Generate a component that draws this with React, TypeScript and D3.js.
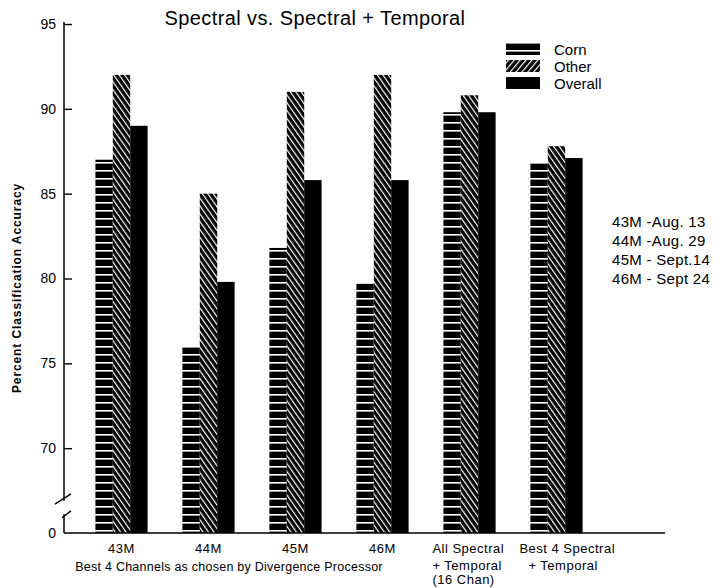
import React, { useEffect, useRef } from "react";
import * as d3 from "d3";

const groups = ["43M", "44M", "45M", "46M", "All Spectral", "Best 4 Spectral"];
const groupLines = [
  ["43M"],
  ["44M"],
  ["45M"],
  ["46M"],
  ["All Spectral", "+ Temporal", "(16 Chan)"],
  ["Best 4 Spectral", "+ Temporal"],
];
const series = ["Corn", "Other", "Overall"];
const corn = [87, 76, 81.8, 79.7, 89.8, 86.8];
const other = [92, 85, 91, 92, 90.8, 87.8];
const overall = [89, 79.8, 85.8, 85.8, 89.8, 87.1];
const yTicks = [70, 75, 80, 85, 90, 95];
const dateNotes = ["43M -Aug. 13", "44M -Aug. 29", "45M - Sept.14", "46M - Sept 24"];

const FONT = "'Liberation Sans', Arial, sans-serif";

export default function App() {
  const ref = useRef<SVGSVGElement>(null);

  useEffect(() => {
    const svg = d3.select(ref.current);
    svg.selectAll("*").remove();

    var x = d3.scaleBand().domain(groups).range([78, 600]).paddingInner(0.4).paddingOuter(0.2);
    var xs = d3.scaleBand().domain(series).range([0, x.bandwidth()]);
    // 65 stands in for the broken-off 0 at the baseline
    var y = d3.scaleLinear().domain([65, 95]).range([533, 24]);
    var base = y(65);

    // patterns
    var defs = svg.append("defs");
    var hp = defs.append("pattern").attr("id", "horiz").attr("patternUnits", "userSpaceOnUse")
      .attr("width", 20).attr("height", 8);
    hp.append("rect").attr("width", 20).attr("height", 8).attr("fill", "#000");
    hp.append("rect").attr("y", 2).attr("width", 20).attr("height", 1.6).attr("fill", "#fff");

    function diag(id: string, angle: number) {
      var p = defs.append("pattern").attr("id", id).attr("patternUnits", "userSpaceOnUse")
        .attr("width", 4.5).attr("height", 10).attr("patternTransform", "rotate(" + angle + ")");
      p.append("rect").attr("width", 4.5).attr("height", 10).attr("fill", "#000");
      p.append("rect").attr("x", 0).attr("width", 1.2).attr("height", 10).attr("fill", "#fff");
    }
    diag("diag", -35);
    diag("diagLeg", 40);

    var fills: { [k: string]: string } = { Corn: "url(#horiz)", Other: "url(#diag)", Overall: "#000" };
    var values: { [k: string]: number[] } = { Corn: corn, Other: other, Overall: overall };

    // bars
    var g = svg.append("g");
    groups.forEach((grp, i) => {
      series.forEach((s) => {
        var v = values[s][i];
        g.append("rect")
          .attr("x", (x(grp) as number) + (xs(s) as number))
          .attr("y", y(v))
          .attr("width", xs.bandwidth())
          .attr("height", base - y(v))
          .attr("fill", fills[s]);
      });
    });

    // y axis with break
    var axis = d3.axisLeft(y).tickValues(yTicks).tickSize(-8).tickPadding(8).tickFormat(d3.format("d"));
    var ag = svg.append("g").attr("transform", "translate(64,0)").call(axis);
    ag.select(".domain").remove();
    ag.selectAll("line").attr("stroke", "#000").attr("stroke-width", 1.4);
    ag.selectAll("text").attr("font-family", FONT).attr("font-size", 14).attr("fill", "#000");

    var line = (x1: number, y1: number, x2: number, y2: number) =>
      svg.append("line").attr("x1", x1).attr("y1", y1).attr("x2", x2).attr("y2", y2)
        .attr("stroke", "#000").attr("stroke-width", 1.5);
    line(64, y(95) - 2, 64, y(66.9));
    line(55, y(66.7), 71, y(67.3));
    line(64, y(66.1), 64, base);
    line(62, y(65.9), 71, y(66.3));
    line(64, base, 665, base);
    svg.append("text").attr("x", 56).attr("y", base).attr("dy", "0.35em").attr("text-anchor", "end")
      .attr("font-family", FONT).attr("font-size", 14).text("0");

    // y label
    svg.append("text")
      .attr("transform", "translate(21,288) rotate(-90)")
      .attr("text-anchor", "middle")
      .attr("font-family", FONT).attr("font-size", 12).attr("font-weight", "bold").attr("letter-spacing", 0.9)
      .text("Percent Classification Accuracy");

    // x labels: single ones centred, stacked ones left-aligned as in the original
    groups.forEach((grp, i) => {
      var x0 = x(grp) as number;
      var lines = groupLines[i];
      lines.forEach((t, j) => {
        var multi = lines.length > 1;
        svg.append("text")
          .attr("x", multi ? x0 - 11 + (i === 5 && j === 1 ? 9 : 0) : x0 + x.bandwidth() / 2)
          .attr("y", 553 + j * 17 - (j > 1 ? 3 : 0))
          .attr("text-anchor", multi ? "start" : "middle")
          .attr("font-family", FONT).attr("font-size", 13).attr("letter-spacing", 0.5)
          .text(t);
      });
    });
    svg.append("text").attr("x", 229).attr("y", 571).attr("text-anchor", "middle")
      .attr("font-family", FONT).attr("font-size", 12.5).attr("letter-spacing", 0.25)
      .text("Best 4 Channels as chosen by Divergence Processor");

    // title
    svg.append("text").attr("x", 315).attr("y", 25).attr("text-anchor", "middle")
      .attr("font-family", FONT).attr("font-size", 20).attr("letter-spacing", 0.4)
      .text("Spectral vs. Spectral + Temporal");

    // legend
    var legFills = ["url(#horiz)", "url(#diagLeg)", "#000"];
    series.forEach((s, i) => {
      var ly = 43 + i * 17;
      svg.append("rect").attr("x", 506).attr("y", ly).attr("width", 34).attr("height", 12).attr("fill", legFills[i]);
      svg.append("text").attr("x", 554).attr("y", ly + 7).attr("dy", "0.35em")
        .attr("font-family", FONT).attr("font-size", 15).text(s);
    });

    // date notes
    dateNotes.forEach((t, i) => {
      svg.append("text").attr("x", 612).attr("y", 222 + i * 19).attr("dy", "0.35em")
        .attr("font-family", FONT).attr("font-size", 15).attr("letter-spacing", 0.3).text(t);
    });
  }, []);

  return (
    <svg ref={ref} width={714} height={588} style={{ position: "absolute", left: 0, top: 0, background: "#fff" }} />
  );
}
